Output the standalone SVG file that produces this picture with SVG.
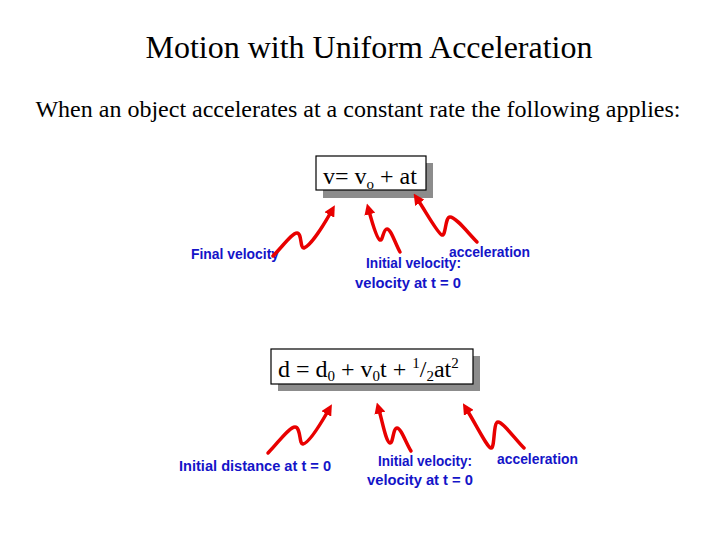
<svg xmlns="http://www.w3.org/2000/svg" width="720" height="540" viewBox="0 0 720 540">
<defs>
<marker id="ah" viewBox="0 0 10 10" refX="3" refY="5" markerWidth="3.2" markerHeight="3.2" orient="auto" markerUnits="strokeWidth">
<path d="M0,0 L10,5 L0,10 z" fill="#e80000"/>
</marker>
<style>
.title{font-family:"Liberation Serif","Times New Roman",serif;fill:#000}
.box{fill:#fff;stroke:#000;stroke-width:1.2}
.shadow{fill:#8c8c8c}
.eq{font-family:"Liberation Serif","Times New Roman",serif;font-size:24px;fill:#000}
.lbl{font-family:"Liberation Sans",Arial,sans-serif;font-weight:bold;font-size:14px;fill:#1414c8}
.arr{fill:none;stroke:#e80000;stroke-width:3.5;stroke-linecap:round;stroke-linejoin:round;marker-end:url(#ah)}
</style>
</defs>
<rect width="720" height="540" fill="#fff"/>
<text class="title" x="369" y="58" font-size="32" text-anchor="middle">Motion with Uniform Acceleration</text>
<text class="title" x="358" y="117" font-size="24" text-anchor="middle">When an object accelerates at a constant rate the following applies:</text>

<g id="eq1">
<rect class="shadow" x="323" y="163" width="110" height="35"/>
<rect class="box" x="316" y="156" width="110" height="34"/>
<text class="eq" x="323" y="184">v= v<tspan font-size="15" dy="5">o</tspan><tspan dy="-5"> + at</tspan></text>
</g>

<g id="eq2">
<rect class="shadow" x="278" y="356" width="202" height="35"/>
<rect class="box" x="271" y="349" width="202" height="35"/>
<text class="eq" x="278" y="377">d = d<tspan font-size="15" dy="4">0</tspan><tspan dy="-4"> + v</tspan><tspan font-size="15" dy="4">0</tspan><tspan dy="-4">t + </tspan><tspan font-size="15" dy="-9">1</tspan><tspan dy="9">/</tspan><tspan font-size="15" dy="4">2</tspan><tspan dy="-4">at</tspan><tspan font-size="15" dy="-9">2</tspan></text>
</g>

<g id="labels">
<text class="lbl" x="191" y="259" textLength="88" lengthAdjust="spacingAndGlyphs">Final velocity</text>
<text class="lbl" x="449" y="257" textLength="81" lengthAdjust="spacingAndGlyphs">acceleration</text>
<text class="lbl" x="366" y="268" textLength="95" lengthAdjust="spacingAndGlyphs">Initial velocity:</text>
<text class="lbl" x="355" y="288" textLength="106" lengthAdjust="spacingAndGlyphs">velocity at t = 0</text>
<text class="lbl" x="179" y="471" textLength="152" lengthAdjust="spacingAndGlyphs">Initial distance at t = 0</text>
<text class="lbl" x="378" y="466" textLength="94" lengthAdjust="spacingAndGlyphs">Initial velocity:</text>
<text class="lbl" x="367" y="485" textLength="106" lengthAdjust="spacingAndGlyphs">velocity at t = 0</text>
<text class="lbl" x="497" y="464" textLength="81" lengthAdjust="spacingAndGlyphs">acceleration</text>
</g>

<g id="connectors">
<path class="arr" d="M273,256 C283,246 292,233 297,233 C302,233 300,249 304,248 C310,246 322,228 331,212"/>
<path class="arr" d="M400,252 C395,243 391,229 387,229 C383,229 383,241 380,240 C377,239 372,222 369,211"/>
<path class="arr" d="M477,242 C468,233 456,217 450,217 C445,217 446,236 442,235 C438,234 426,212 418,200"/>
<path class="arr" d="M268,453 C278,443 289,427 295,427 C301,427 299,445 303,444 C309,443 320,425 328,411"/>
<path class="arr" d="M411,451 C406,443 401,428 397,428 C393,428 393,444 390,443 C386,442 383,424 379,410"/>
<path class="arr" d="M524,448 C515,439 503,422 498,422 C493,422 495,449 491,448 C487,447 478,428 467,410"/>
</g>
</svg>
